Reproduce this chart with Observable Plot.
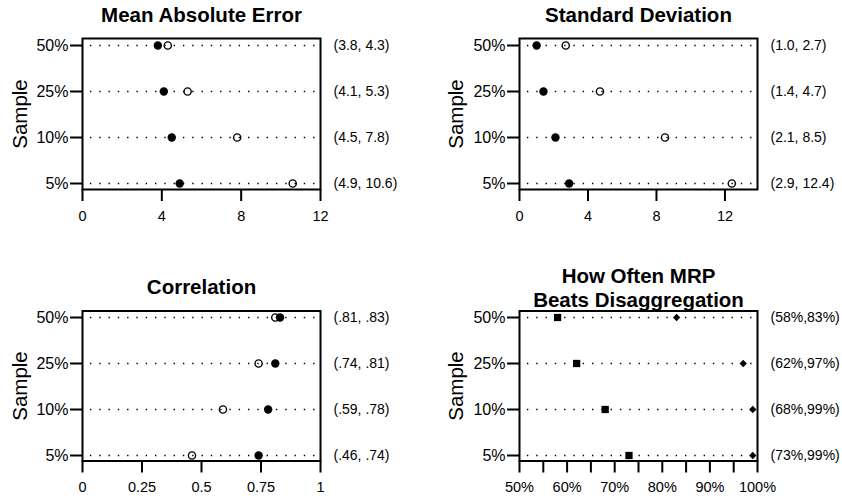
<!DOCTYPE html>
<html>
<head>
<meta charset="utf-8">
<script src="https://cdn.jsdelivr.net/npm/d3@7"></script>
<script src="https://cdn.jsdelivr.net/npm/@observablehq/plot@0.6"></script>
<style>
html, body { margin: 0; padding: 0; background: #fff; }
#chart { position: relative; width: 842px; height: 501px; overflow: hidden; background: #fff; }
#chart > div { position: absolute; }
#chart svg { overflow: visible; font-family: "Liberation Sans", Arial, Helvetica, sans-serif; font-size: 15px; }
</style>
</head>
<body>
<div id="chart"></div>
<script>
// ---- data ----
const samples = ["50%", "25%", "10%", "5%"];
const maeMRP = [3.8, 4.1, 4.5, 4.9];
const maeDisagg = [4.3, 5.3, 7.8, 10.6];
const sdMRP = [1.0, 1.4, 2.1, 2.9];
const sdDisagg = [2.7, 4.7, 8.5, 12.4];
const corMRP = [0.83, 0.81, 0.78, 0.74];
const corDisagg = [0.81, 0.74, 0.59, 0.46];
const beatsSquare = [58, 62, 68, 73];
const beatsDiamond = [83, 97, 99, 99];
const ticksMAE = [0, 4, 8, 12];
const ticksSD = [0, 4, 8, 12];
const ticksCor = [0, 0.25, 0.5, 0.75, 1];
const ticksBeats = [50, 55, 60, 65, 70, 75, 80, 85, 90, 95, 100];
const titles = ["Mean Absolute Error", "Standard Deviation", "Correlation", "How Often MRP\nBeats Disaggregation"];

const FONT = '"Liberation Sans", Arial, Helvetica, sans-serif';
const fmt1 = (a, b) => `(${Math.min(a, b).toFixed(1)}, ${Math.max(a, b).toFixed(1)})`;
const fmtCor = (a, b) => `(${Math.min(a, b).toFixed(2).replace(/^0/, "")}, ${Math.max(a, b).toFixed(2).replace(/^0/, "")})`;
const fmtPct = (a, b) => `(${Math.min(a, b)}%,${Math.max(a, b)}%)`;

const filled = {r: 4.2, fill: "black"};
const open = {r: 3.6, fill: "none", stroke: "black", strokeWidth: 1.4};
const square = {symbol: "square", r: 4.1, fill: "black"};
const diamond = {symbol: "diamond2", r: 3.3, fill: "black"};

function panel(o) {
  const rows = samples.map((s, i) => ({s, a: o.a[i], b: o.b[i], label: o.fmt(o.a[i], o.b[i])}));
  const plot = Plot.plot({
    width: o.width, height: o.height,
    marginLeft: o.mL, marginRight: o.mR, marginTop: o.mT, marginBottom: o.mB,
    style: {fontFamily: FONT, color: "black", background: "white", overflow: "visible"},
    x: {domain: o.domain, label: null},
    y: {type: "point", domain: samples, padding: 0.12, label: null},
    marks: [
      Plot.ruleY(samples, {y: d => d, stroke: "black", strokeWidth: 1.4, strokeDasharray: "1.4,7.9", strokeDashoffset: 1.4}),
      Plot.frame({stroke: "black", strokeWidth: 2}),
      Plot.axisY({tickSize: 12, tickPadding: 2, strokeWidth: 2, label: null, fontSize: 16}),
      Plot.axisX({ticks: o.ticks, tickFormat: o.tickFormat, tickSize: 12, tickPadding: 9, strokeWidth: 2, label: null, fontSize: 14.5}),
      Plot.dot(rows, {x: "b", y: "s", ...o.symB}),
      Plot.dot(rows, {x: "a", y: "s", ...o.symA}),
      Plot.text(rows, {y: "s", text: "label", frameAnchor: "right", dx: 13, textAnchor: "start", fontSize: 14}),
      Plot.text([o.title], {text: d => d, frameAnchor: "top", dy: o.titleDy, textAnchor: "middle", lineAnchor: "bottom", fontSize: 20.5, fontWeight: "bold", lineHeight: 1.15}),
      Plot.text(["Sample"], {text: d => d, frameAnchor: "left", dx: o.labelDx, rotate: -90, textAnchor: "middle", lineAnchor: "middle", fontSize: 20.5})
    ]
  });
  const wrap = document.createElement("div");
  wrap.style.left = o.left + "px";
  wrap.style.top = o.top + "px";
  wrap.appendChild(plot);
  document.getElementById("chart").appendChild(wrap);
}

panel({title: titles[0], a: maeMRP, b: maeDisagg, symA: filled, symB: open, fmt: fmt1,
  domain: [0, 12], ticks: ticksMAE, tickFormat: d => String(d),
  left: 0, top: 0, width: 421, height: 250, mL: 82, mR: 101, mT: 38, mB: 61, titleDy: -17, labelDx: -62});
panel({title: titles[1], a: sdMRP, b: sdDisagg, symA: filled, symB: open, fmt: fmt1,
  domain: [0, 13.9], ticks: ticksSD, tickFormat: d => String(d),
  left: 421, top: 0, width: 421, height: 250, mL: 98, mR: 85, mT: 38, mB: 61, titleDy: -16.5, labelDx: -63});
panel({title: titles[2], a: corMRP, b: corDisagg, symA: filled, symB: open, fmt: fmtCor,
  domain: [0, 1], ticks: ticksCor, tickFormat: d => String(d),
  left: 0, top: 250, width: 421, height: 251, mL: 82, mR: 101, mT: 60.5, mB: 40.5, titleDy: -17, labelDx: -62});
panel({title: titles[3], a: beatsSquare, b: beatsDiamond, symA: square, symB: diamond, fmt: fmtPct,
  domain: [50, 100], ticks: ticksBeats, tickFormat: d => (d % 10 === 0 ? d + "%" : ""),
  left: 421, top: 250, width: 421, height: 251, mL: 98, mR: 85, mT: 60.5, mB: 40.5, titleDy: -4, labelDx: -63});
</script>
</body>
</html>
